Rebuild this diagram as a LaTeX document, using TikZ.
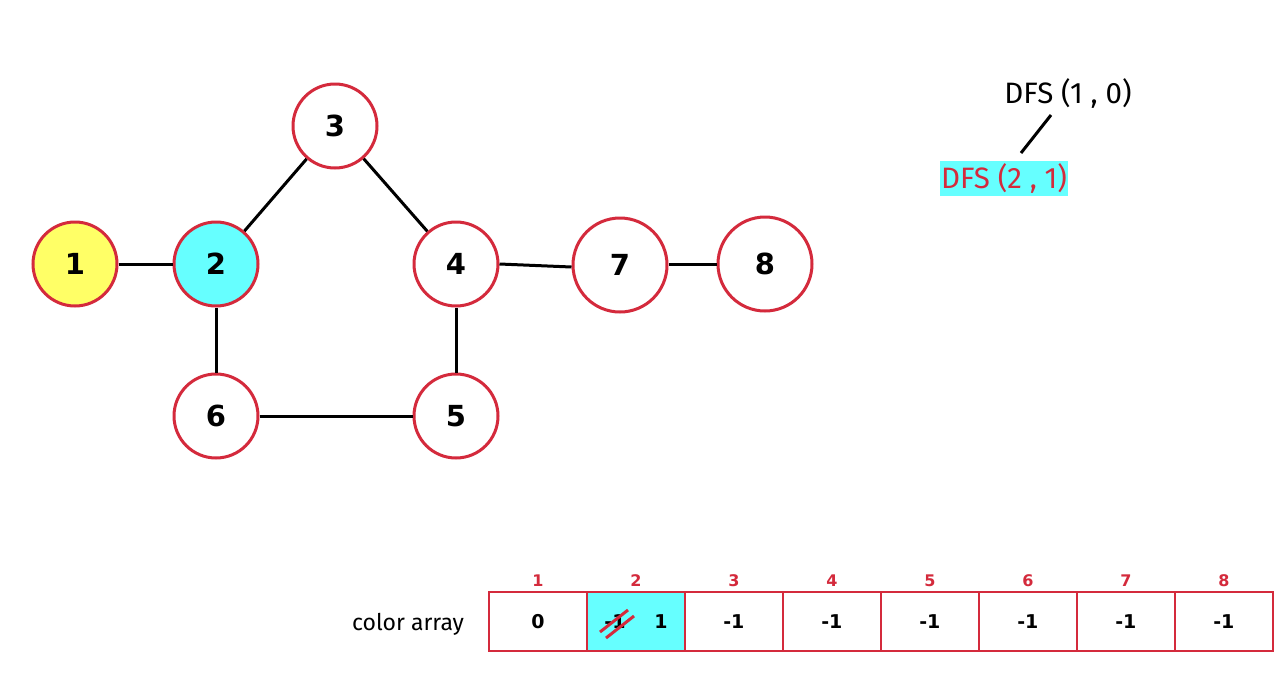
\documentclass[tikz,border=0pt]{standalone}
\usepackage{fontspec}
\setmainfont{Fira Sans}
\newfontfamily\numfont{DejaVu Sans}
\definecolor{crim}{HTML}{D42A3C}
\definecolor{cyanf}{HTML}{66FFFF}
\definecolor{yelf}{HTML}{FFFF66}
\begin{document}
\begin{tikzpicture}[x=1pt,y=-1pt,
  vert/.style={circle,draw=crim,line width=3pt,fill=white,minimum size=84pt,inner sep=0pt,font=\numfont\bfseries\fontsize{29}{32}\selectfont},
  bigvert/.style={vert,minimum size=94pt},
  edge/.style={line width=3pt,black},
  cell/.style={draw=crim,line width=1.8pt,minimum width=98pt,minimum height=59pt,inner sep=0pt,anchor=west,font=\numfont\bfseries\fontsize{19}{22}\selectfont},
  idx/.style={text=crim,font=\numfont\bfseries\fontsize{16}{19}\selectfont},
  dfs/.style={font=\fontsize{29.5}{32}\selectfont,inner sep=1pt}]
\useasboundingbox[fill=white] (0,0) rectangle (1285,689);
% graph
\node[vert,fill=yelf] (n1) at (75,264) {1};
\node[vert,fill=cyanf] (n2) at (216,264) {2};
\node[vert] (n3) at (335,126) {3};
\node[vert] (n4) at (456,264) {4};
\node[bigvert] (n7) at (620,265) {7};
\node[bigvert] (n8) at (765,264) {8};
\node[vert] (n6) at (216,416) {6};
\node[vert] (n5) at (456,416) {5};
\draw[edge] (n1) -- (n2);
\draw[edge] (n2) -- (n3);
\draw[edge] (n3) -- (n4);
\draw[edge] (n4.east) -- ([yshift=-2pt]n7.west);
\draw[edge] (n7.east |- n8) -- (n8);
\draw[edge] (n2) -- (n6);
\draw[edge] (n4) -- (n5);
\draw[edge] (n6) -- (n5);
% DFS tree
\node[dfs] (d1) at (1068,93) {DFS (1 , 0)};
\node[dfs,fill=cyanf,text=crim,minimum width=128pt,minimum height=35pt] (d2) at (1004,178) {DFS (2 , 1)};
\coordinate (l1) at (1051,115);
\coordinate (l2) at (1021,153);
\draw[line width=3pt] (l1) -- (l2);
% array
\node[font=\fontsize{23}{26}\selectfont] (lab) at (408,624) {color array};
\node[cell] (c1) at (488,621.5) {0};
\node[cell,fill=cyanf] (c2) at (586,621.5) {};
\node[cell] (c3) at (684,621.5) {-1};
\node[cell] (c4) at (782,621.5) {-1};
\node[cell] (c5) at (880,621.5) {-1};
\node[cell] (c6) at (978,621.5) {-1};
\node[cell] (c7) at (1076,621.5) {-1};
\node[cell] (c8) at (1174,621.5) {-1};
\node[font=\numfont\bfseries\fontsize{19}{22}\selectfont] (old) at (615,622) {-1};
\node[font=\numfont\bfseries\fontsize{19}{22}\selectfont] (new) at (661,622) {1};
\coordinate (s1a) at (600,632); \coordinate (s1b) at (628,610);
\coordinate (s2a) at (606,638); \coordinate (s2b) at (634,616);
\draw[crim,line width=3pt] (s1a) -- (s1b);
\draw[crim,line width=3pt] (s2a) -- (s2b);
\foreach \i/\c in {1/c1,2/c2,3/c3,4/c4,5/c5,6/c6,7/c7,8/c8}
  \node[idx] (i\i) at ([yshift=41pt]\c.center) {\i};
\end{tikzpicture}
\end{document}
